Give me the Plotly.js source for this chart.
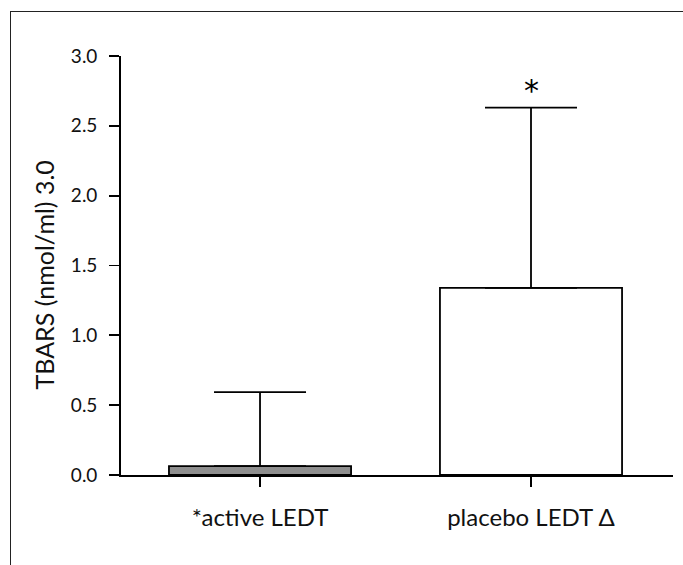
<!DOCTYPE html>
<html>
<head>
<meta charset="utf-8">
<script src="https://cdn.plot.ly/plotly-3.0.1.min.js"></script>
<style>
  html, body { margin: 0; padding: 0; background: #fff; }
  #wrap { position: relative; width: 683px; height: 565px; }
  #frame { position: absolute; left: 10px; top: 11px; width: 700px; height: 600px;
           border-left: 1.6px solid #222; border-top: 1.6px solid #222; pointer-events: none; z-index: 5; }
  #chart { position: absolute; left: 0; top: 0; width: 683px; height: 565px; }
</style>
</head>
<body>
<div id="wrap">
  <div id="chart"></div>
  <div id="frame"></div>
</div>
<script>
const categories = ["*active LEDT", "placebo LEDT \u0394"];
const means = [0.064, 1.34];
const errors = [0.53, 1.29];
const barColors = ["#8e8e8e", "#ffffff"];
const yTicks = [0, 0.5, 1.0, 1.5, 2.0, 2.5, 3.0];
const yTickText = ["0.0", "0.5", "1.0", "1.5", "2.0", "2.5", "3.0"];
const yTitle = "TBARS (nmol/ml) 3.0";
const sigMark = "*";
const sigIndex = 1;

const font = "Lato, Open Sans, sans-serif";

const trace = {
  type: "bar",
  x: [0, 1],
  y: means,
  width: 0.672,
  marker: { color: barColors, line: { color: "#000", width: 1.8 } },
  error_y: { type: "data", array: errors, symmetric: false, arrayminus: [0, 0],
             visible: true, color: "#000", thickness: 1.8, width: 46 },
  hoverinfo: "none"
};

const layout = {
  width: 683, height: 565,
  margin: { l: 121, r: 10, t: 56, b: 90 },
  paper_bgcolor: "#fff", plot_bgcolor: "#fff",
  showlegend: false,
  font: { family: font, color: "#111" },
  xaxis: {
    range: [-0.513, 1.524],
    tickvals: [0, 1], ticktext: categories,
    ticks: "outside", ticklen: 10, tickwidth: 1.8, tickcolor: "#000",
    showline: true, linecolor: "#000", linewidth: 1.8,
    showgrid: false, zeroline: false,
    tickfont: { size: 24, family: font, color: "#111" },
    ticklabelstandoff: 10
  },
  yaxis: {
    range: [0, 3.0],
    tickvals: yTicks, ticktext: yTickText,
    ticks: "outside", ticklen: 10, tickwidth: 1.8, tickcolor: "#000",
    showline: true, linecolor: "#000", linewidth: 1.8,
    showgrid: false, zeroline: false,
    tickfont: { size: 19, family: font, color: "#111" },
    ticklabelstandoff: 8
  },
  annotations: [
    {
      x: sigIndex, y: means[sigIndex] + errors[sigIndex], xref: "x", yref: "y",
      text: sigMark, showarrow: false, yanchor: "bottom", yshift: -2,
      font: { size: 30, family: "DejaVu Sans, sans-serif", color: "#000" }
    },
    {
      x: 0, y: 0.5, xref: "paper", yref: "paper",
      text: yTitle, textangle: -90, showarrow: false,
      xanchor: "center", yanchor: "middle", xshift: -78, yshift: -10,
      font: { size: 25, family: font, color: "#111" }
    }
  ]
};

Plotly.newPlot("chart", [trace], layout, { displayModeBar: false, staticPlot: true });
</script>
</body>
</html>
